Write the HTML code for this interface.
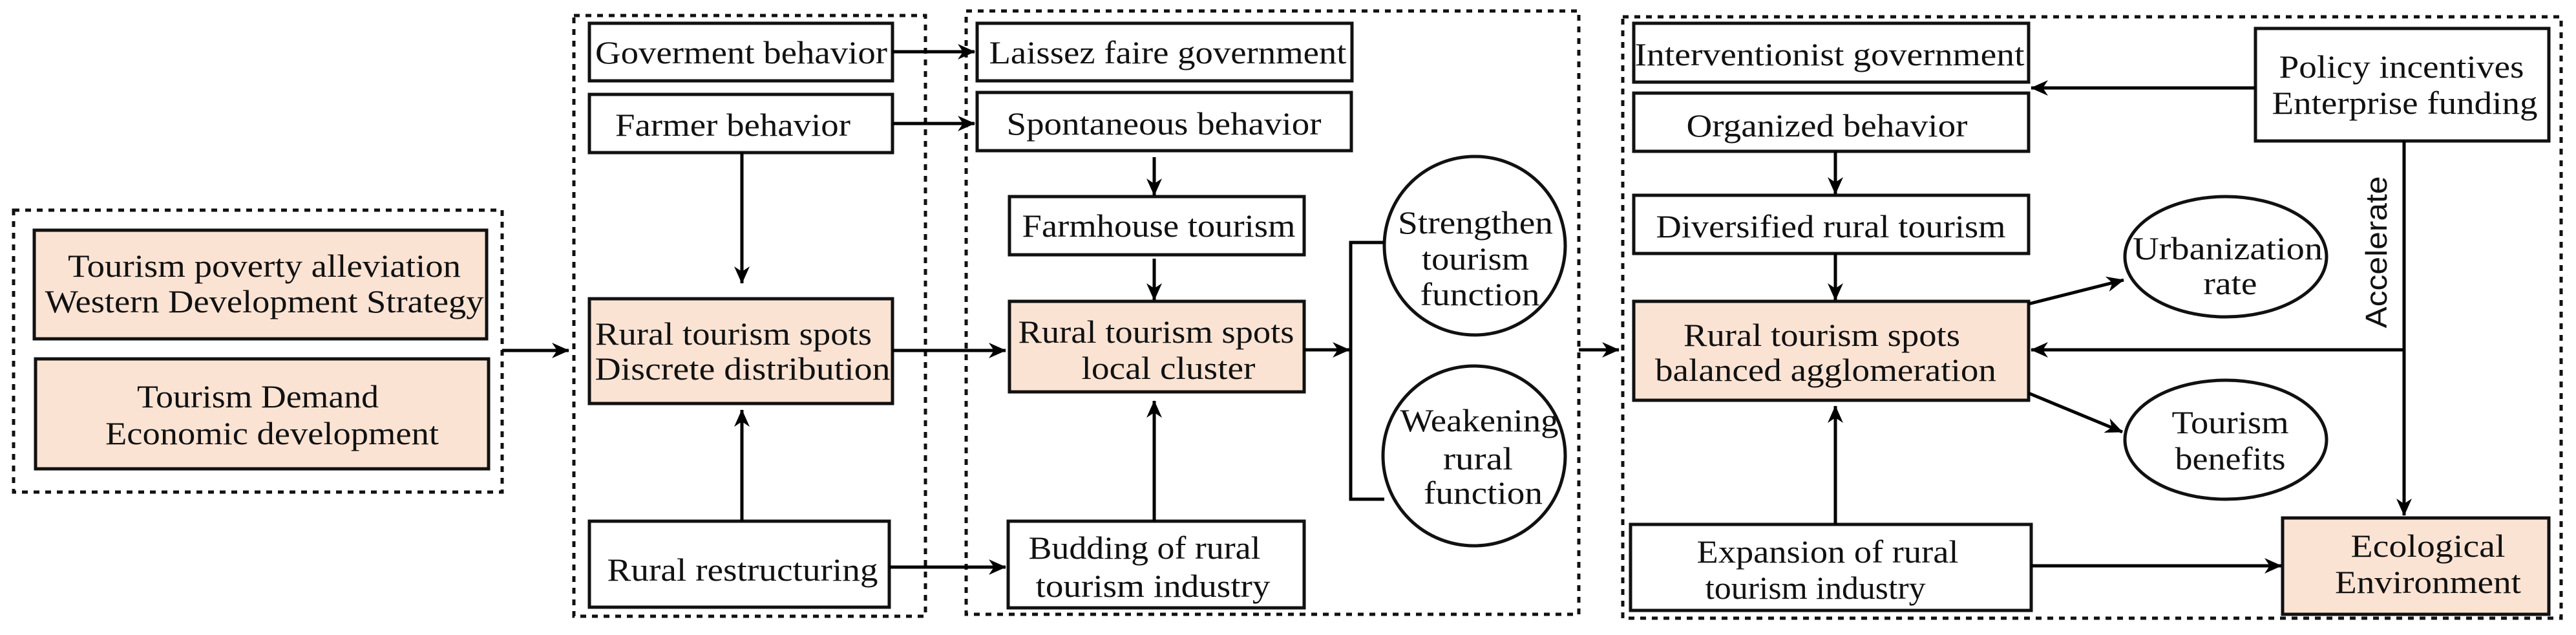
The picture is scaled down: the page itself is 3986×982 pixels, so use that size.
<!DOCTYPE html>
<html><head><meta charset="utf-8"><style>
html,body{margin:0;padding:0;background:#fff;}
svg{display:block;}
text{font-family:"Liberation Serif",serif;font-size:50px;fill:#111;}
</style></head><body>
<svg width="3986" height="982" viewBox="0 0 3986 982" xmlns="http://www.w3.org/2000/svg">
<defs>
<marker id="a" markerUnits="userSpaceOnUse" markerWidth="30" markerHeight="30" refX="26" refY="13" orient="auto">
<path d="M0,1 L27,13 L0,25 L8,13 z" fill="#000"/>
</marker>
</defs>
<g fill="none" stroke="#111" stroke-width="5" stroke-dasharray="9,9">
<rect x="21" y="325" width="756" height="436"/>
<rect x="888" y="24" width="544" height="929"/>
<rect x="1495" y="17" width="948" height="933"/>
<rect x="2511" y="26" width="1452" height="930"/>
</g>
<g stroke="#111" stroke-width="5">
<rect x="53" y="356" width="700" height="168" fill="#fbe3d4"/>
<rect x="55" y="555" width="701" height="170" fill="#fbe3d4"/>
<rect x="912" y="36" width="469" height="89" fill="#fff"/>
<rect x="912" y="146" width="469" height="90" fill="#fff"/>
<rect x="912" y="462" width="469" height="162" fill="#fbe3d4"/>
<rect x="912" y="806" width="464" height="133" fill="#fff"/>
<rect x="1512" y="36" width="580" height="89" fill="#fff"/>
<rect x="1512" y="143" width="579" height="90" fill="#fff"/>
<rect x="1562" y="304" width="456" height="90" fill="#fff"/>
<rect x="1562" y="466" width="456" height="140" fill="#fbe3d4"/>
<rect x="1560" y="806" width="458" height="134" fill="#fff"/>
<ellipse cx="2282" cy="380" rx="140" ry="138" fill="#fff"/>
<ellipse cx="2281" cy="705" rx="141" ry="139" fill="#fff"/>
<rect x="2528" y="36" width="611" height="91" fill="#fff"/>
<rect x="2528" y="144" width="611" height="90" fill="#fff"/>
<rect x="2528" y="302" width="611" height="90" fill="#fff"/>
<rect x="2528" y="466" width="611" height="153" fill="#fbe3d4"/>
<rect x="2523" y="811" width="620" height="133" fill="#fff"/>
<rect x="3490" y="44" width="454" height="174" fill="#fff"/>
<rect x="3532" y="801" width="412" height="149" fill="#fbe3d4"/>
<ellipse cx="3444" cy="397" rx="156" ry="93" fill="#fff"/>
<ellipse cx="3444" cy="680" rx="156" ry="92" fill="#fff"/>
</g>
<g stroke="#000" stroke-width="5" fill="none" marker-end="url(#a)">
<line x1="777" y1="542" x2="880" y2="542"/>
<line x1="1381" y1="80" x2="1508" y2="80"/>
<line x1="1381" y1="191" x2="1508" y2="191"/>
<line x1="1148" y1="236" x2="1148" y2="438"/>
<line x1="1148" y1="806" x2="1148" y2="634"/>
<line x1="1381" y1="542" x2="1556" y2="542"/>
<line x1="1376" y1="877" x2="1556" y2="877"/>
<line x1="1786" y1="243" x2="1786" y2="302"/>
<line x1="1786" y1="400" x2="1786" y2="464"/>
<line x1="1786" y1="806" x2="1786" y2="620"/>
<line x1="2018" y1="541" x2="2088" y2="541"/>
<line x1="2443" y1="541" x2="2505" y2="541"/>
<line x1="2840" y1="234" x2="2840" y2="300"/>
<line x1="2840" y1="392" x2="2840" y2="464"/>
<line x1="2840" y1="811" x2="2840" y2="628"/>
<line x1="3490" y1="136" x2="3143" y2="136"/>
<line x1="3720" y1="541" x2="3143" y2="541"/>
<line x1="3720" y1="218" x2="3720" y2="797"/>
<line x1="3143" y1="875" x2="3530" y2="875"/>
<line x1="3139" y1="470" x2="3286" y2="433"/>
<line x1="3139" y1="608" x2="3284" y2="668"/>
</g>
<polyline points="2142,375 2090,375 2090,772 2142,772" fill="none" stroke="#000" stroke-width="5"/>
<g dominant-baseline="central" text-anchor="middle" lengthAdjust="spacingAndGlyphs">
<text x="409" y="411" textLength="608" lengthAdjust="spacingAndGlyphs">Tourism poverty alleviation</text>
<text x="409" y="466" textLength="679" lengthAdjust="spacingAndGlyphs">Western Development Strategy</text>
<text x="399" y="613" textLength="374" lengthAdjust="spacingAndGlyphs">Tourism Demand</text>
<text x="421" y="670" textLength="516" lengthAdjust="spacingAndGlyphs">Economic development</text>
<text x="1147" y="81" textLength="452" lengthAdjust="spacingAndGlyphs">Goverment behavior</text>
<text x="1134" y="193" textLength="364" lengthAdjust="spacingAndGlyphs">Farmer behavior</text>
<text x="1135" y="516" textLength="428" lengthAdjust="spacingAndGlyphs">Rural tourism spots</text>
<text x="1149" y="570" textLength="457" lengthAdjust="spacingAndGlyphs">Discrete distribution</text>
<text x="1149" y="881" textLength="419" lengthAdjust="spacingAndGlyphs">Rural restructuring</text>
<text x="1807" y="81" textLength="553" lengthAdjust="spacingAndGlyphs">Laissez faire government</text>
<text x="1801" y="191" textLength="487" lengthAdjust="spacingAndGlyphs">Spontaneous behavior</text>
<text x="1793" y="349" textLength="423" lengthAdjust="spacingAndGlyphs">Farmhouse tourism</text>
<text x="1789" y="513" textLength="427" lengthAdjust="spacingAndGlyphs">Rural tourism spots</text>
<text x="1808" y="569" textLength="269" lengthAdjust="spacingAndGlyphs">local cluster</text>
<text x="1771" y="847" textLength="359" lengthAdjust="spacingAndGlyphs">Budding of rural</text>
<text x="1784" y="906" textLength="363" lengthAdjust="spacingAndGlyphs">tourism industry</text>
<text x="2283" y="344" textLength="240" lengthAdjust="spacingAndGlyphs">Strengthen</text>
<text x="2283" y="400" textLength="166" lengthAdjust="spacingAndGlyphs">tourism</text>
<text x="2290" y="455" textLength="185" lengthAdjust="spacingAndGlyphs">function</text>
<text x="2289" y="650" textLength="245" lengthAdjust="spacingAndGlyphs">Weakening</text>
<text x="2287" y="709" textLength="108" lengthAdjust="spacingAndGlyphs">rural</text>
<text x="2295" y="762" textLength="184" lengthAdjust="spacingAndGlyphs">function</text>
<text x="2831" y="84" textLength="603" lengthAdjust="spacingAndGlyphs">Interventionist government</text>
<text x="2827" y="194" textLength="435" lengthAdjust="spacingAndGlyphs">Organized behavior</text>
<text x="2833" y="350" textLength="541" lengthAdjust="spacingAndGlyphs">Diversified rural tourism</text>
<text x="2819" y="518" textLength="428" lengthAdjust="spacingAndGlyphs">Rural tourism spots</text>
<text x="2825" y="572" textLength="528" lengthAdjust="spacingAndGlyphs">balanced agglomeration</text>
<text x="3716" y="103" textLength="379" lengthAdjust="spacingAndGlyphs">Policy incentives</text>
<text x="3721" y="159" textLength="411" lengthAdjust="spacingAndGlyphs">Enterprise funding</text>
<text x="3447" y="384" textLength="294" lengthAdjust="spacingAndGlyphs">Urbanization</text>
<text x="3451" y="438" textLength="83" lengthAdjust="spacingAndGlyphs">rate</text>
<text x="3451" y="653" textLength="181" lengthAdjust="spacingAndGlyphs">Tourism</text>
<text x="3451" y="709" textLength="171" lengthAdjust="spacingAndGlyphs">benefits</text>
<text x="2828" y="853" textLength="405" lengthAdjust="spacingAndGlyphs">Expansion of rural</text>
<text x="2809" y="909" textLength="341" lengthAdjust="spacingAndGlyphs">tourism industry</text>
<text x="3757" y="844" textLength="239" lengthAdjust="spacingAndGlyphs">Ecological</text>
<text x="3757" y="900" textLength="288" lengthAdjust="spacingAndGlyphs">Environment</text>
<text x="0" y="0" transform="translate(3677,390) rotate(-90)" textLength="235" lengthAdjust="spacingAndGlyphs" style="font-family:'Liberation Sans',sans-serif;font-size:46px">Accelerate</text>
</g>
</svg>
</body></html>
